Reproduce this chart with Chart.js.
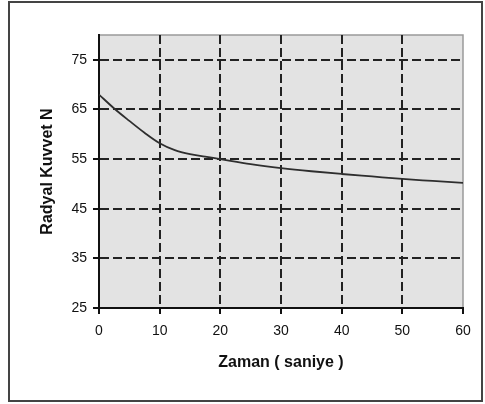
<!DOCTYPE html>
<html>
<head>
<meta charset="utf-8">
<script src="https://cdn.jsdelivr.net/npm/chart.js@4.4.0/dist/chart.umd.min.js"></script>
<style>
  html, body { margin: 0; padding: 0; background: #fff; }
  canvas { display: block; }
</style>
</head>
<body>
<canvas id="c" width="485" height="404"></canvas>
<script>
// Data
const timeSec = [0, 2.5, 5, 7.5, 10, 12.5, 15, 17.5, 20, 25, 30, 35, 40, 45, 50, 55, 60];
const radialForce = [68, 65.2, 62.7, 60.3, 58.2, 56.8, 56.0, 55.5, 55.0, 54.0, 53.2, 52.55, 52.0, 51.5, 51.0, 50.6, 50.2];
const yTickValues = [25, 35, 45, 55, 65, 75];
const xTickValues = [0, 10, 20, 30, 40, 50, 60];
const xTitle = 'Zaman ( saniye )';
const yTitle = 'Radyal Kuvvet N';

const FONT = "'Liberation Sans', Arial, sans-serif";

const framePlugin = {
  id: 'frame',
  beforeDraw(chart) {
    const ctx = chart.ctx;
    const a = chart.chartArea;
    ctx.save();
    ctx.fillStyle = '#ffffff';
    ctx.fillRect(0, 0, chart.width, chart.height);
    // outer frame
    ctx.strokeStyle = '#444444';
    ctx.lineWidth = 2;
    ctx.strokeRect(9, 2, 473, 399);
    // plot area
    ctx.fillStyle = '#e3e3e3';
    ctx.fillRect(a.left, a.top, a.right - a.left, a.bottom - a.top);
    ctx.strokeStyle = '#9a9a9a';
    ctx.lineWidth = 1.5;
    ctx.strokeRect(a.left, a.top, a.right - a.left, a.bottom - a.top);
    ctx.restore();
  }
};

new Chart(document.getElementById('c'), {
  type: 'line',
  data: {
    datasets: [{
      data: timeSec.map((t, i) => ({ x: t, y: radialForce[i] })),
      borderColor: '#2e2e2e',
      borderWidth: 1.8,
      pointRadius: 0,
      fill: false,
      cubicInterpolationMode: 'monotone'
    }]
  },
  options: {
    responsive: false,
    animation: false,
    devicePixelRatio: 1,
    layout: { padding: { left: 20, right: 22, top: 35, bottom: 20 } },
    plugins: { legend: { display: false }, tooltip: { enabled: false } },
    scales: {
      x: {
        type: 'linear',
        min: 0, max: 60,
        afterBuildTicks: s => { s.ticks = xTickValues.map(v => ({ value: v })); },
        afterFit: s => { s.height = 76; },
        ticks: { font: { family: FONT, size: 14 }, color: '#111', padding: 9, maxRotation: 0 },
        grid: {
          color: c => (c.tick && (c.tick.value === 0 || c.tick.value === 60)) ? 'rgba(0,0,0,0)' : '#222',
          lineWidth: 2,
          tickColor: '#111',
          tickLength: 6,
          tickWidth: 2
        },
        border: { display: true, color: '#111', width: 2, dash: [9, 4] },
        title: { display: true, text: xTitle, font: { family: FONT, size: 16, weight: 'bold' }, color: '#111', padding: { top: 0, bottom: 12 } }
      },
      y: {
        type: 'linear',
        min: 25, max: 80,
        afterBuildTicks: s => { s.ticks = yTickValues.map(v => ({ value: v })); },
        afterFit: s => { s.width = 79; },
        ticks: { font: { family: FONT, size: 14 }, color: '#111', padding: 6 },
        grid: {
          color: c => (c.tick && c.tick.value === 25) ? 'rgba(0,0,0,0)' : '#222',
          lineWidth: 2,
          tickColor: '#111',
          tickLength: 6,
          tickWidth: 2
        },
        border: { display: true, color: '#111', width: 2, dash: [9, 4] },
        title: { display: true, text: yTitle, font: { family: FONT, size: 16, weight: 'bold' }, color: '#111', padding: { top: 18, bottom: 0 } }
      }
    }
  },
  plugins: [framePlugin]
});
</script>
</body>
</html>
